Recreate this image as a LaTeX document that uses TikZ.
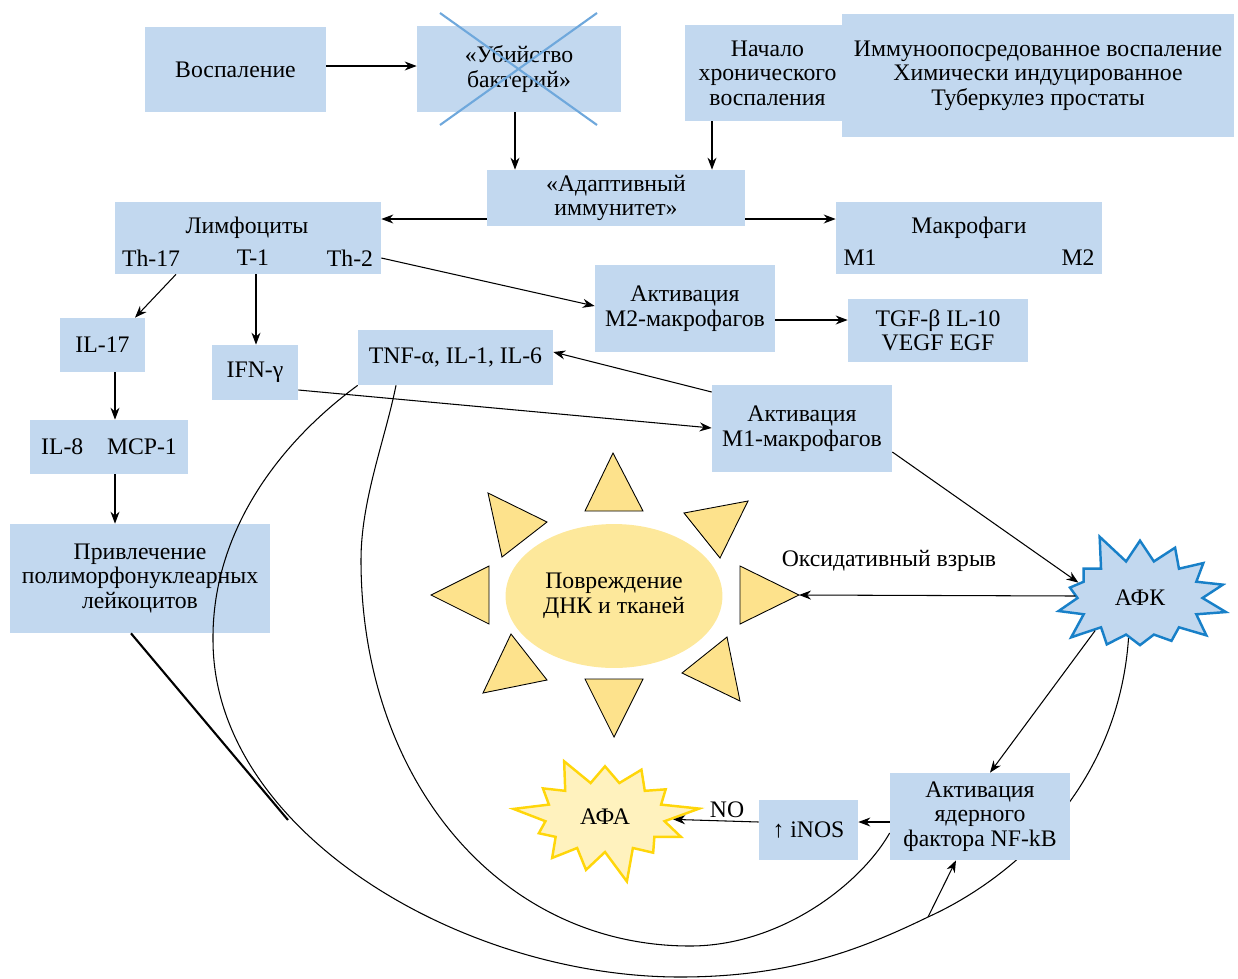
\documentclass[tikz,border=0pt]{standalone}
\usepackage{fontspec}
\setmainfont{Liberation Serif}
\usepackage{xcolor}
\usepackage{tikz}
\usetikzlibrary{arrows.meta,calc,shapes.geometric,shapes.symbols}
\definecolor{boxblue}{RGB}{194,216,239}
\definecolor{crossblue}{RGB}{111,168,220}
\definecolor{rosblue}{RGB}{24,128,200}
\definecolor{dmgfill}{RGB}{253,232,155}
\definecolor{rayfill}{RGB}{253,226,140}
\definecolor{afafill}{RGB}{255,242,190}
\definecolor{afaedge}{RGB}{255,214,10}
\pgfdeclarelayer{background}
\pgfsetlayers{background,main}

\begin{document}
\begin{tikzpicture}[
  x=0.02cm, y=-0.02cm,
  font=\fontsize{13.5}{14}\selectfont,
  box/.style={fill=boxblue, align=center, inner sep=0pt},
  lbl/.style={inner sep=1pt, align=center},
  ar/.style={-{Stealth[length=2.4mm, width=1.8mm]}, line width=0.6pt},
  curve/.style={line width=0.6pt},
  ray/.style={draw, line width=0.5pt, fill=rayfill},
  burst/.style={starburst, line width=1.4pt, align=center, inner sep=0pt},
  cross/.style={draw=crossblue, line width=1.2pt},
]
\useasboundingbox (0,0) rectangle (1238,978);
% top row
\node[box, minimum width=3.62cm, minimum height=1.7cm] (vosp) at (235.5,69.5) {Воспаление};
\node[box, minimum width=4.08cm, minimum height=1.72cm] (kill) at (519,69) {«Убийство\\бактерий»};
\draw[cross] ($(kill.center)+(-79,-56)$) -- ($(kill.center)+(78,56)$);
\draw[cross] ($(kill.center)+(78,-56)$) -- ($(kill.center)+(-79,56)$);
\node[box, minimum width=7.84cm, minimum height=2.46cm] (cause) at (1038,75.5)
  {Иммуноопосредованное воспаление\\Химически индуцированное\\Туберкулез простаты};
\node[box, minimum width=3.3cm, minimum height=1.92cm] (start) at (767.5,73)
  {Начало\\хронического\\воспаления};
\node[box, minimum width=5.16cm, minimum height=1.12cm] (adapt) at (616,198) {«Адаптивный\\иммунитет»};
\draw[ar] (vosp.east |- 0,66) -- (kill.west |- 0,66);
\draw[ar] (kill.south -| 515,0) -- (adapt.north -| 515,0);
\draw[ar] (start.south -| 712,0) -- (adapt.north -| 712,0);

% lymphocytes and macrophages
\node[box, minimum width=5.32cm, minimum height=1.44cm] (lym) at (248,238) {};
\node[lbl] (lymt) at (247,228) {Лимфоциты};
\node[lbl] (th17) at (151,258) {Th-17};
\node[lbl] (t1) at (253,258) {T-1};
\node[lbl] (th2) at (350,258) {Th-2};
\node[box, minimum width=5.32cm, minimum height=1.44cm] (mac) at (969,238) {};
\node[lbl] (mact) at (969,228) {Макрофаги};
\node[lbl] (m1) at (860,258) {M1};
\node[lbl] (m2) at (1078,258) {M2};
\draw[ar] (adapt.west |- 0,219) -- (lym.east |- 0,219);
\draw[ar] (adapt.east |- 0,219) -- (mac.west |- 0,219);

% cytokines
\node[box, minimum width=3.6cm, minimum height=1.74cm] (m2act) at (685,308.5) {Активация\\M2-макрофагов};
\node[box, minimum width=3.6cm, minimum height=1.26cm] (tgf) at (938,330.5) {TGF-β IL-10\\VEGF EGF};
\node[box, minimum width=1.7cm, minimum height=1.08cm] (il17) at (102.5,345) {IL-17};
\node[box, minimum width=1.72cm, minimum height=1.1cm] (ifn) at (255,372.5) {IFN-γ};
\node[box, minimum width=3.9cm, minimum height=1.1cm] (tnf) at (455.5,357.5) {TNF-α, IL-1, IL-6};
\node[box, minimum width=3.6cm, minimum height=1.74cm] (m1act) at (802,428.5) {Активация\\M1-макрофагов};
\node[box, minimum width=3.16cm, minimum height=1.08cm] (il8) at (109,447) {IL-8\quad MCP-1};
\draw[ar] (lym.south -| 176,0) -- (il17.north -| 135,0);
\draw[ar] (lym.south -| 256,0) -- (ifn.north -| 256,0);
\draw[ar] (lym.east |- 0,258) -- (m2act.west |- 0,306);
\draw[ar] (m2act.east |- 0,320) -- (tgf.west |- 0,320);
\draw[ar] (il17.south -| 115,0) -- (il8.north -| 115,0);
\draw[ar] (m1act.west |- 0,392) -- (tnf.east |- 0,352);
\draw[ar] (ifn.east |- 0,390) -- (m1act.west |- 0,428);

% damage
\node[ellipse, fill=dmgfill, minimum width=4.18cm, minimum height=2.88cm, align=center] (dmg) at (614,596)
  {Повреждение\\ДНК и тканей};
\foreach \ax/\ay/\bx/\by/\cx/\cy in {613/453/585/511/643/511, 684/513/748/501/720/558,
  740/566/740/624/799/595, 727/637/740/701/682/673, 585/679/643/679/614/737,
  511/634/547/680/483/693, 431/595/489/566/489/624, 488/493/547/522/502/557}
  \draw[ray] (\ax,\ay) -- (\bx,\by) -- (\cx,\cy) -- cycle;
\coordinate (rayE) at (799,595);

% ROS and NF-kB
\node[burst, draw=rosblue, fill=boxblue, minimum width=3.8cm, minimum height=2.8cm,
  starburst points=14, starburst point height=0.65cm, random starburst=5] (afk) at (1140,598) {АФК};
\node[box, minimum width=3.6cm, minimum height=1.74cm] (nfkb) at (980,816.5)
  {Активация\\ядерного\\фактора NF-kB};
\node[box, minimum width=1.98cm, minimum height=1.2cm] (inos) at (808.5,830) {↑ iNOS};
\node[burst, draw=afaedge, fill=afafill, minimum width=3.8cm, minimum height=2.8cm,
  starburst points=13, starburst point height=0.7cm, random starburst=9] (afa) at (605,817) {АФА};
\node[lbl] (oxlbl) at (889,561) {Оксидативный взрыв};
\node[lbl] (nolbl) at (727,810) {NO};
\draw[ar] (m1act.east |- 0,452) -- (afk.166);
\draw[ar] (afk.west |- 0,596) -- (rayE);
\draw[ar] (afk.-144) -- (nfkb.north -| 990,0);
\draw[ar] (nfkb.west |- 0,822) -- (inos.east |- 0,822);
\draw[ar] (inos.west |- 0,822) -- (afa.-2);

% feedback loops
\coordinate (oc) at (928,917);
\coordinate (pmnend) at (288,820);
\begin{pgfonlayer}{background}
\node[box, minimum width=5.2cm, minimum height=2.18cm] (pmn) at (140,578.5)
  {Привлечение\\полиморфонуклеарных\\лейкоцитов};
\draw[curve] (tnf.south west) .. controls (270,450) and (212,540) .. (213,640)
  .. controls (213,830) and (460,977) .. (680,977)
  .. controls (790,977) and (860,950) .. (oc)
  .. controls (1010,880) and (1118,790) .. (afk.-106);
\draw[curve] (tnf.south -| 396,0) .. controls (385,440) and (361,500) .. (361,560)
  .. controls (361,780) and (500,946) .. (690,946)
  .. controls (780,946) and (860,885) .. (nfkb.west |- 0,833);
\draw[line width=1.2pt] (pmn.south -| 131,0) -- (pmnend);
\end{pgfonlayer}
\draw[ar] (il8.south -| 115,0) -- (pmn.north -| 115,0);
\draw[ar] (oc) -- (nfkb.south -| 956,0);
\end{tikzpicture}
\end{document}
